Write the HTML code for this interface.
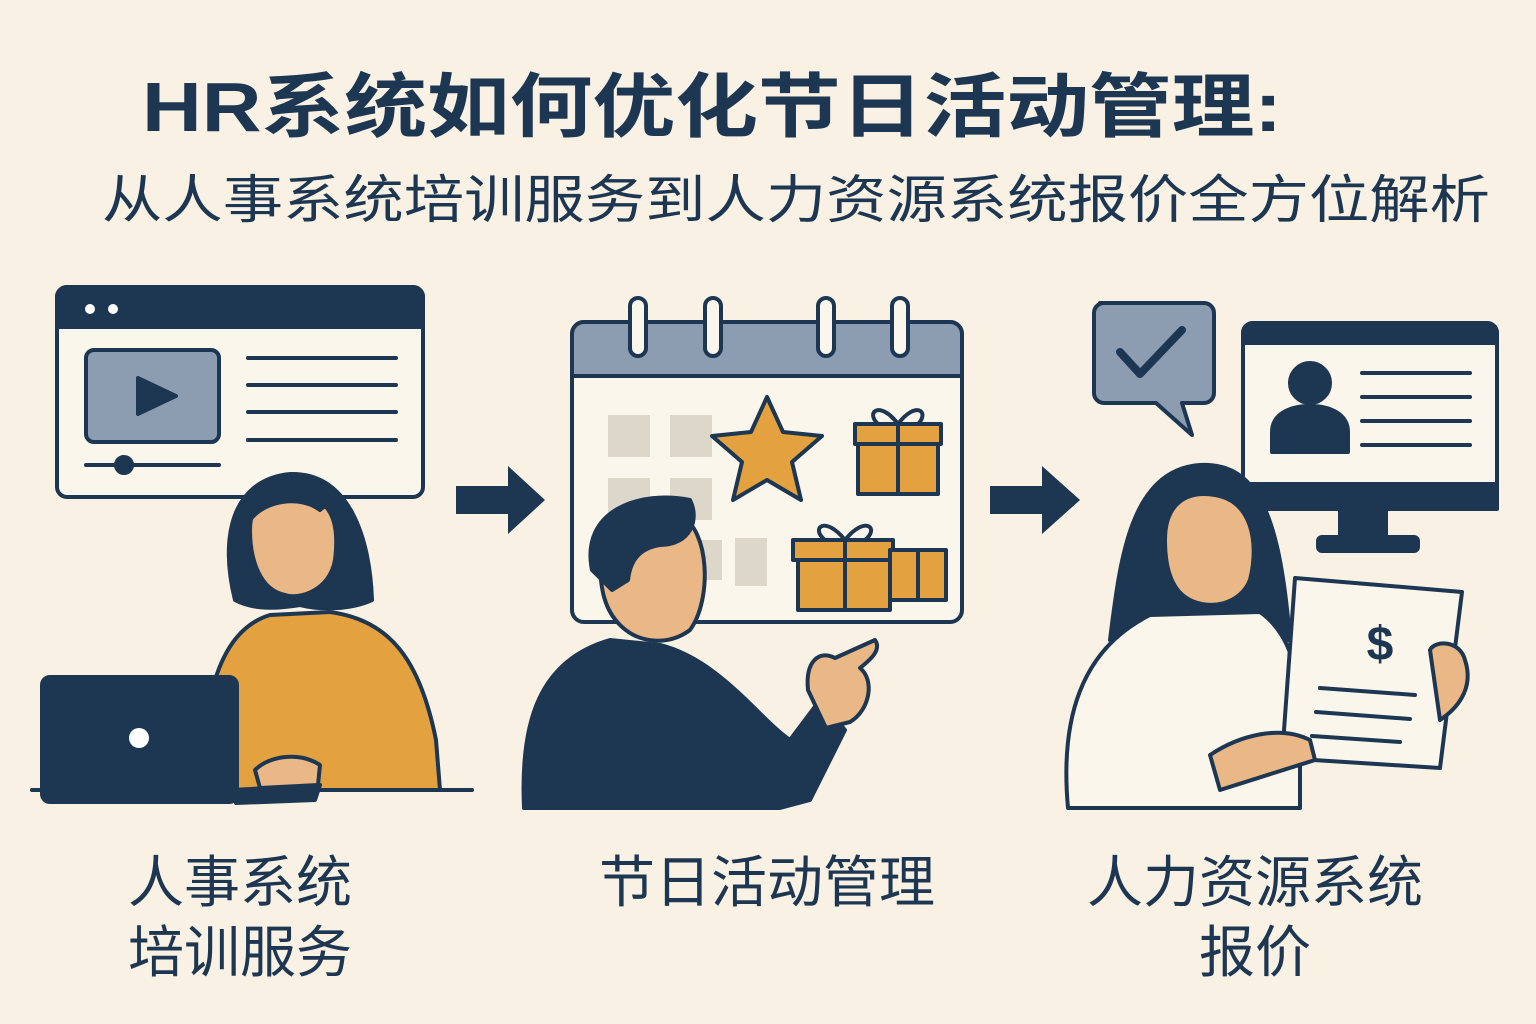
<!DOCTYPE html>
<html><head><meta charset="utf-8"><style>
html,body{margin:0;padding:0;background:#f8f1e4;}
svg{display:block}
text{font-family:"Liberation Sans","Noto Sans CJK SC",sans-serif;fill:#1d3652}
</style></head><body>
<svg width="1536" height="1024" viewBox="0 0 1536 1024" xmlns="http://www.w3.org/2000/svg">
<rect width="1536" height="1024" fill="#f8f1e4"/>
<text x="142" y="131" font-size="70" font-weight="bold" textLength="1140" lengthAdjust="spacingAndGlyphs">HR系统如何优化节日活动管理:</text>
<text x="102" y="218" font-size="52" textLength="1388" lengthAdjust="spacingAndGlyphs">从人事系统培训服务到人力资源系统报价全方位解析</text>

<g stroke="#1d3652" stroke-width="4" stroke-linejoin="round" stroke-linecap="round">
<!-- Panel 1: browser -->
<rect x="57" y="287" width="366" height="210" rx="10" fill="#fbf6ec"/>
<path d="M57 297 a10 10 0 0 1 10 -10 h346 a10 10 0 0 1 10 10 v30 h-366z" fill="#1d3652"/>
<circle cx="90" cy="309" r="5" fill="#fff" stroke="none"/><circle cx="113" cy="309" r="5" fill="#fff" stroke="none"/>
<rect x="86" y="350" width="133" height="92" rx="8" fill="#8c9db2"/>
<path d="M138 378 L176 396 L138 414z" fill="#1d3652"/>
<line x1="86" y1="465" x2="219" y2="465"/><circle cx="124" cy="465" r="8" fill="#1d3652"/>
<line x1="248" y1="358" x2="396" y2="358"/><line x1="248" y1="385" x2="396" y2="385"/><line x1="248" y1="412" x2="396" y2="412"/><line x1="248" y1="440" x2="396" y2="440"/>
<!-- woman 1 -->
<path d="M235 600 C220 540 230 480 290 474 C350 472 370 540 372 600 C350 610 320 610 300 605 C270 610 250 608 235 600z" fill="#1d3652"/>
<path d="M250 530 C250 500 270 490 300 495 C330 498 340 520 335 560 C330 590 300 600 285 595 C260 590 250 560 250 530z" fill="#eab786"/>
<path d="M250 520 C265 500 300 495 320 510 C330 500 340 510 340 520 C330 480 280 470 250 520z" fill="#1d3652"/>
<path d="M205 790 C200 700 220 630 270 615 L330 612 C390 620 420 660 436 740 L440 790z" fill="#e3a23f"/>
<rect x="42" y="677" width="195" height="125" rx="8" fill="#1d3652"/>
<circle cx="139" cy="738" r="10" fill="#fff" stroke="none"/>
<path d="M232 790 L320 785 L315 800 L236 803z" fill="#1d3652"/>
<path d="M255 770 C270 755 300 752 320 765 L318 785 L260 788z" fill="#eab786"/>
<line x1="32" y1="790" x2="472" y2="790"/>

<!-- arrows -->
<path d="M456 486 H508 V466 L545 500 L508 534 V514 H456z" fill="#1d3652" stroke="none"/>
<path d="M990 486 H1042 V466 L1080 500 L1042 534 V514 H990z" fill="#1d3652" stroke="none"/>

<!-- Panel 2: calendar -->
<rect x="572" y="322" width="390" height="300" rx="12" fill="#fbf6ec"/>
<path d="M572 334 a12 12 0 0 1 12 -12 h366 a12 12 0 0 1 12 12 v42 h-390z" fill="#8c9db2"/>
<g fill="#fbf6ec"><rect x="630" y="298" width="16" height="58" rx="8"/><rect x="705" y="298" width="16" height="58" rx="8"/><rect x="818" y="298" width="16" height="58" rx="8"/><rect x="892" y="298" width="16" height="58" rx="8"/></g>
<g fill="#dcd7c8" stroke="none"><rect x="608" y="415" width="42" height="42"/><rect x="670" y="415" width="42" height="42"/><rect x="608" y="478" width="42" height="42"/><rect x="670" y="478" width="42" height="42"/><rect x="735" y="538" width="32" height="48"/><rect x="690" y="540" width="32" height="40"/></g>
<path d="M767 397 L783 432 L822 436 L792 462 L801 500 L767 480 L733 500 L742 462 L712 436 L751 432z" fill="#e3a23f"/>
<rect x="858" y="424" width="80" height="70" fill="#e3a23f"/><rect x="855" y="424" width="86" height="20" fill="#e3a23f"/><line x1="898" y1="424" x2="898" y2="494"/>
<path d="M898 424 C880 400 865 412 878 424 M898 424 C916 400 930 412 918 424" fill="none"/>
<rect x="798" y="542" width="92" height="68" fill="#e3a23f"/><rect x="793" y="540" width="100" height="20" fill="#e3a23f"/><line x1="845" y1="540" x2="845" y2="610"/>
<path d="M845 540 C825 515 810 528 825 540 M845 540 C865 515 880 528 865 540" fill="none"/>
<rect x="890" y="550" width="56" height="50" fill="#e3a23f"/><line x1="918" y1="550" x2="918" y2="600"/>
<!-- man -->
<path d="M524 808 C520 720 540 660 610 640 L660 645 C720 660 760 720 790 740 L820 700 L845 730 L810 800 L780 808z" fill="#1d3652"/>
<path d="M600 560 C600 520 640 505 680 515 C710 530 712 600 690 630 C670 645 640 645 620 625 C605 610 600 590 600 560z" fill="#eab786"/>
<path d="M592 570 C580 510 640 490 690 500 C700 520 690 545 660 545 C640 548 630 560 628 580 L612 590z" fill="#1d3652"/>
<path d="M808 690 C805 660 820 650 835 658 L875 640 C882 650 870 660 860 668 C875 680 870 710 850 722 L826 728z" fill="#eab786"/>

<!-- Panel 3 -->
<path d="M1100 303 H1204 a10 10 0 0 1 10 10 v80 a10 10 0 0 1 -10 10 h-22 l10 32 l-36 -32 h-52 a10 10 0 0 1 -10 -10 v-80 a10 10 0 0 1 10 -10z" fill="#8c9db2"/>
<path d="M1120 352 L1140 374 L1182 330" fill="none" stroke-width="8"/>
<rect x="1243" y="323" width="254" height="186" rx="10" fill="#fbf6ec"/>
<path d="M1243 333 a10 10 0 0 1 10 -10 h234 a10 10 0 0 1 10 10 v10 h-254z" fill="#1d3652"/>
<rect x="1243" y="484" width="254" height="25" fill="#1d3652"/>
<rect x="1340" y="509" width="46" height="30" fill="#1d3652"/><rect x="1318" y="537" width="100" height="14" rx="4" fill="#1d3652"/>
<circle cx="1310" cy="383" r="20" fill="#1d3652"/><path d="M1272 452 v-20 c0 -18 18 -26 38 -26 c20 0 38 8 38 26 v20z" fill="#1d3652"/>
<line x1="1362" y1="373" x2="1470" y2="373"/><line x1="1362" y1="397" x2="1470" y2="397"/><line x1="1362" y1="421" x2="1470" y2="421"/><line x1="1362" y1="445" x2="1470" y2="445"/>
<!-- woman 3 -->
<path d="M1110 640 C1120 560 1130 470 1200 465 C1260 462 1280 520 1290 640z" fill="#1d3652"/>
<path d="M1165 540 C1165 505 1185 490 1215 495 C1250 500 1260 540 1250 580 C1240 605 1210 610 1190 600 C1170 590 1165 565 1165 540z" fill="#eab786"/>
<path d="M1068 808 C1060 720 1080 650 1150 615 L1260 612 C1300 640 1300 700 1300 720 L1300 808z" fill="#fbf6ec"/>
<path d="M1295 578 L1462 592 L1440 768 L1282 758z" fill="#fbf6ec"/>
<line x1="1320" y1="688" x2="1415" y2="695"/><line x1="1316" y1="712" x2="1410" y2="719"/><line x1="1312" y1="736" x2="1400" y2="742"/>
<path d="M1430 650 C1435 640 1460 640 1465 660 C1475 690 1455 710 1440 720z" fill="#eab786"/>
<path d="M1210 755 C1240 735 1280 725 1310 740 L1315 760 L1220 790z" fill="#eab786"/>
</g>
<text x="1380" y="660" font-size="48" font-weight="bold" text-anchor="middle">$</text>

<g font-size="56" text-anchor="middle">
<text x="240" y="902">人事系统</text>
<text x="240" y="972">培训服务</text>
<text x="767" y="902">节日活动管理</text>
<text x="1255" y="902">人力资源系统</text>
<text x="1255" y="972">报价</text>
</g>
</svg>
</body></html>
